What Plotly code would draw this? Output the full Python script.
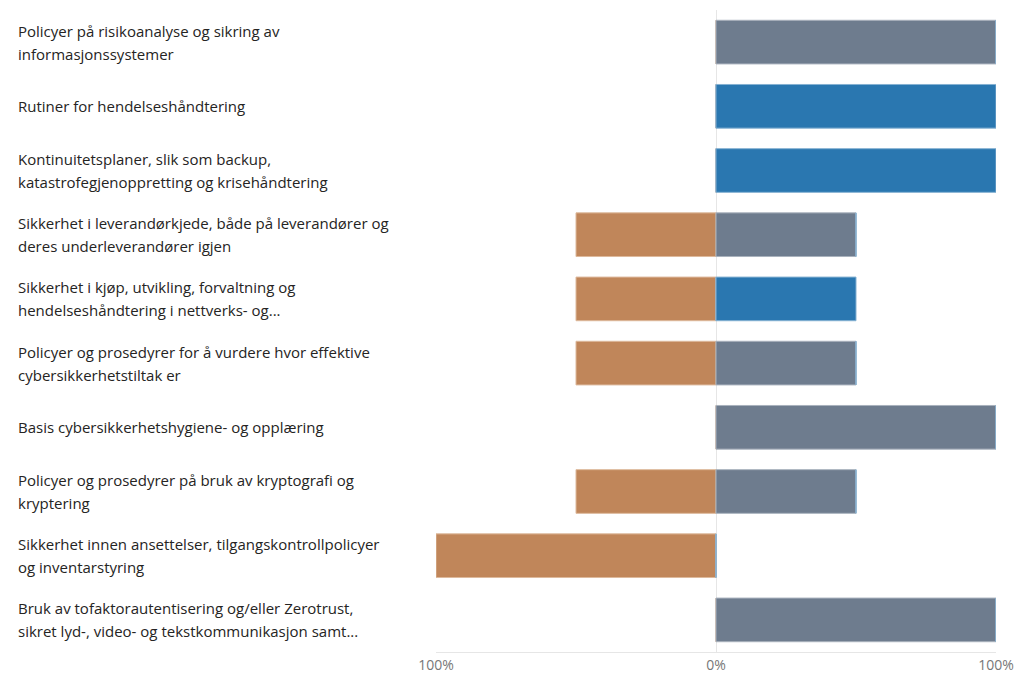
import plotly.graph_objects as go

label_lines = [
    ["Policyer på risikoanalyse og sikring av", "informasjonssystemer"],
    ["Rutiner for hendelseshåndtering"],
    ["Kontinuitetsplaner, slik som backup,", "katastrofegjenoppretting og krisehåndtering"],
    ["Sikkerhet i leverandørkjede, både på leverandører og", "deres underleverandører igjen"],
    ["Sikkerhet i kjøp, utvikling, forvaltning og", "hendelseshåndtering i nettverks- og..."],
    ["Policyer og prosedyrer for å vurdere hvor effektive", "cybersikkerhetstiltak er"],
    ["Basis cybersikkerhetshygiene- og opplæring"],
    ["Policyer og prosedyrer på bruk av kryptografi og", "kryptering"],
    ["Sikkerhet innen ansettelser, tilgangskontrollpolicyer", "og inventarstyring"],
    ["Bruk av tofaktorautentisering og/eller Zerotrust,", "sikret lyd-, video- og tekstkommunikasjon samt..."],
]
categories = [" | ".join(l) for l in label_lines]

negative = [0, 0, 0, -50, -50, -50, 0, -50, -100, 0]
positive_gray = [100, 0, 0, 50, 0, 50, 100, 50, 0, 100]
positive_blue = [0, 100, 100, 0, 50, 0, 0, 0, 0, 0]

tick_vals = [-100, 0, 100]
tick_text = ["100%", "0%", "100%"]

ORANGE = "#C0865A"
GRAY = "#6E7C8E"
BLUE = "#2A77B0"

fig = go.Figure()
for vals, col, edge in [(negative, ORANGE, "#DDB99C"), (positive_gray, GRAY, "#A9B2BD"), (positive_blue, BLUE, "#85B1D2")]:
    fig.add_trace(go.Bar(
        y=categories, x=vals, orientation="h",
        marker=dict(color=col, line=dict(color=edge, width=1)),
        hoverinfo="skip", showlegend=False,
    ))

W, H = 1020, 675
ml, mr, mt, mb = 436, 24, 10, 23
pw = W - ml - mr
ph = H - mt - mb
band = ph / len(categories)
line_gap = 23

annotations = []
for i, lines in enumerate(label_lines):
    cy = mt + band * (i + 0.5)
    n = len(lines)
    for j, t in enumerate(lines):
        ly = cy + (j - (n - 1) / 2) * line_gap
        annotations.append(dict(
            text=t, xref="paper", yref="paper",
            x=(16 - ml) / pw, y=1 - (ly - mt) / ph,
            xanchor="left", yanchor="middle", showarrow=False,
            font=dict(family="Segoe UI, Open Sans, sans-serif", size=15, color="#252423"),
        ))

fig.update_layout(
    width=W, height=H, barmode="relative", bargap=0.32,
    margin=dict(l=ml, r=mr, t=mt, b=mb, autoexpand=False),
    paper_bgcolor="white", plot_bgcolor="white",
    annotations=annotations,
    xaxis=dict(range=[-100, 100], tickvals=tick_vals, ticktext=tick_text,
               showgrid=True, gridcolor="#E6E6E6", gridwidth=1,
               zeroline=False, showline=True, linecolor="#E6E6E6",
               automargin=False, ticks="", ticklen=0, ticklabelstandoff=0,
               tickfont=dict(family="Segoe UI, Open Sans, sans-serif", size=14, color="#777777"),
               fixedrange=True),
    yaxis=dict(autorange="reversed", showticklabels=False, showgrid=False, zeroline=False,
               automargin=False, fixedrange=True),
)
fig.write_html("out.html")
